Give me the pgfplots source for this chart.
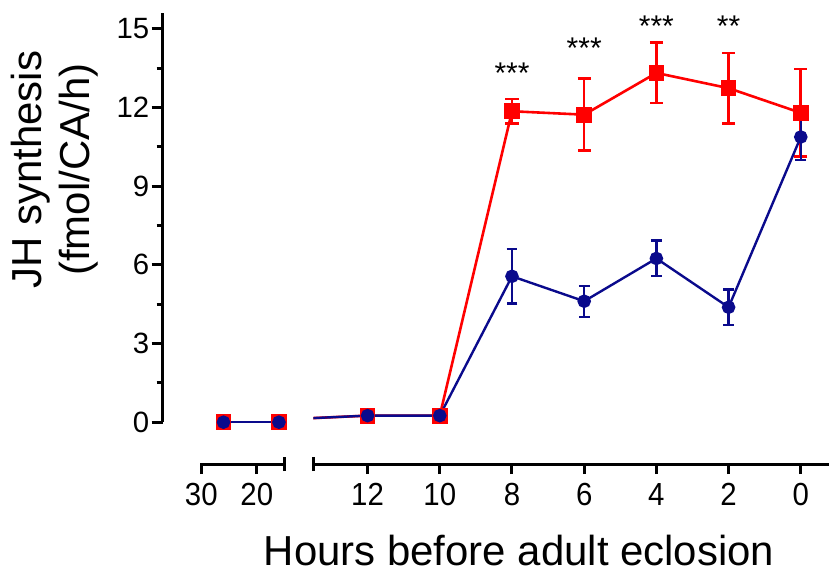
\documentclass[border=0pt]{standalone}
\usepackage{fontspec}
\setmainfont{Liberation Sans}
\newfontfamily\narrowsans[FakeStretch=0.92]{Liberation Sans}
\usepackage{pgfplots}
\pgfplotsset{compat=1.18}

\definecolor{jhred}{RGB}{255,0,0}
\definecolor{jhblue}{RGB}{10,10,140}

\newcommand{\xtickfont}{\narrowsans\fontsize{16}{18}\selectfont}
\newcommand{\ytickfont}{\fontsize{14.7}{16}\selectfont}

% 1 px of the reference = 0.5pt
\pgfplotsset{
  brk/.style={
    scale only axis,
    anchor=south west,
    axis x line*=bottom,
    axis y line=none,
    x dir=reverse,
    ymin=-1.6, ymax=16.6,
    height=239.2pt,
    axis line style={line width=1.5pt, line cap=rect},
    tick style={line width=1.5pt, black},
    tick align=outside,
    major tick length=5pt,
    tick label style={font=\xtickfont},
    xticklabel style={anchor=base, yshift=-15.8pt},
  },
  jh red/.style={color=jhred, line width=1.3pt, mark=square*,
    mark size=3.3pt, mark options={solid, fill=jhred},
    error bars/y dir=both, error bars/y explicit,
    error bars/error bar style={line width=1.3pt, color=jhred},
    error bars/error mark options={rotate=90, line width=1.3pt, mark size=3.3pt, color=jhred}},
  jh blue/.style={color=jhblue, line width=1.2pt, mark=*,
    mark size=2.8pt, mark options={solid, fill=jhblue},
    error bars/y dir=both, error bars/y explicit,
    error bars/error bar style={line width=1.2pt, color=jhblue},
    error bars/error mark options={rotate=90, line width=1.2pt, mark size=2.7pt, color=jhblue}},
}

\begin{document}
\begin{tikzpicture}
\path (0,0) rectangle (414.5pt,286pt);

% y axis
\begin{axis}[
  at={(81.5pt,74.5pt)},
  scale only axis,
  anchor=south west,
  width=1pt, height=205pt,
  xmin=0, xmax=1,
  ymin=0, ymax=15.6,
  axis y line*=left,
  axis x line=none,
  axis line style={line width=1.5pt},
  tick style={line width=1.5pt, black},
  tick align=outside,
  ytick={0,3,6,9,12,15},
  yticklabels={0,3,6,9,12,15},
  minor ytick={1.5,4.5,...,13.5},
  major tick length=5.5pt,
  minor tick length=3pt,
  tick label style={font=\ytickfont},
  yticklabel style={xshift=2.3pt},
]
\end{axis}

% left segment of the broken x axis
\begin{axis}[
  brk,
  at={(100.85pt,53.5pt)},
  width=41.65pt,
  xmin=15, xmax=30,
  xtick={20,30},
  xticklabels={20,30},
  extra x ticks={15},
  extra x tick labels={},
  extra x tick style={tick align=center, major tick length=7pt},
]
\addplot[jh red] coordinates {(26,0) (16,0)};
\addplot[jh blue] coordinates {(26,0) (16,0)};
\end{axis}

% right segment of the broken x axis
\begin{axis}[
  brk,
  at={(157pt,53.5pt)},
  width=257.5pt,
  xmin=-0.74, xmax=13.5,
  xtick={0,2,4,6,8,10,12},
  xticklabels={0,2,4,6,8,10,12},
  extra x ticks={13.5},
  extra x tick labels={},
  extra x tick style={tick align=center, major tick length=7pt},
]
\addplot[jh red] coordinates {
  (16,0) +- (0,0)
  (12,0.25) +- (0,0)
  (10,0.25) +- (0,0)
  (8,11.85) +- (0,0.47)
  (6,11.72) +- (0,1.37)
  (4,13.31) +- (0,1.15)
  (2,12.73) +- (0,1.34)
  (0,11.79) +- (0,1.67)
};
\addplot[jh blue] coordinates {
  (16,0) +- (0,0)
  (12,0.25) +- (0,0)
  (10,0.25) +- (0,0)
  (8,5.56) +- (0,1.03)
  (6,4.61) +- (0,0.59)
  (4,6.24) +- (0,0.68)
  (2,4.38) +- (0,0.68)
  (0,10.87) +- (0,0.88)
};
\begin{scope}[every node/.style={anchor=base, font=\fontsize{15}{16}\selectfont}]
\node at (axis cs:8,12.9) {***};
\node at (axis cs:6,13.85) {***};
\node at (axis cs:4,14.69) {***};
\node at (axis cs:2,14.69) {**};
\end{scope}
\end{axis}

% axis titles
\node[anchor=base, font=\fontsize{21}{24}\selectfont] at (260pt,2.5pt)
  {Hours before adult eclosion};
\node[rotate=90, align=center, font=\fontsize{21}{24}\selectfont] at (27.5pt,201pt)
  {JH synthesis\\(fmol/CA/h)};
\end{tikzpicture}
\end{document}
